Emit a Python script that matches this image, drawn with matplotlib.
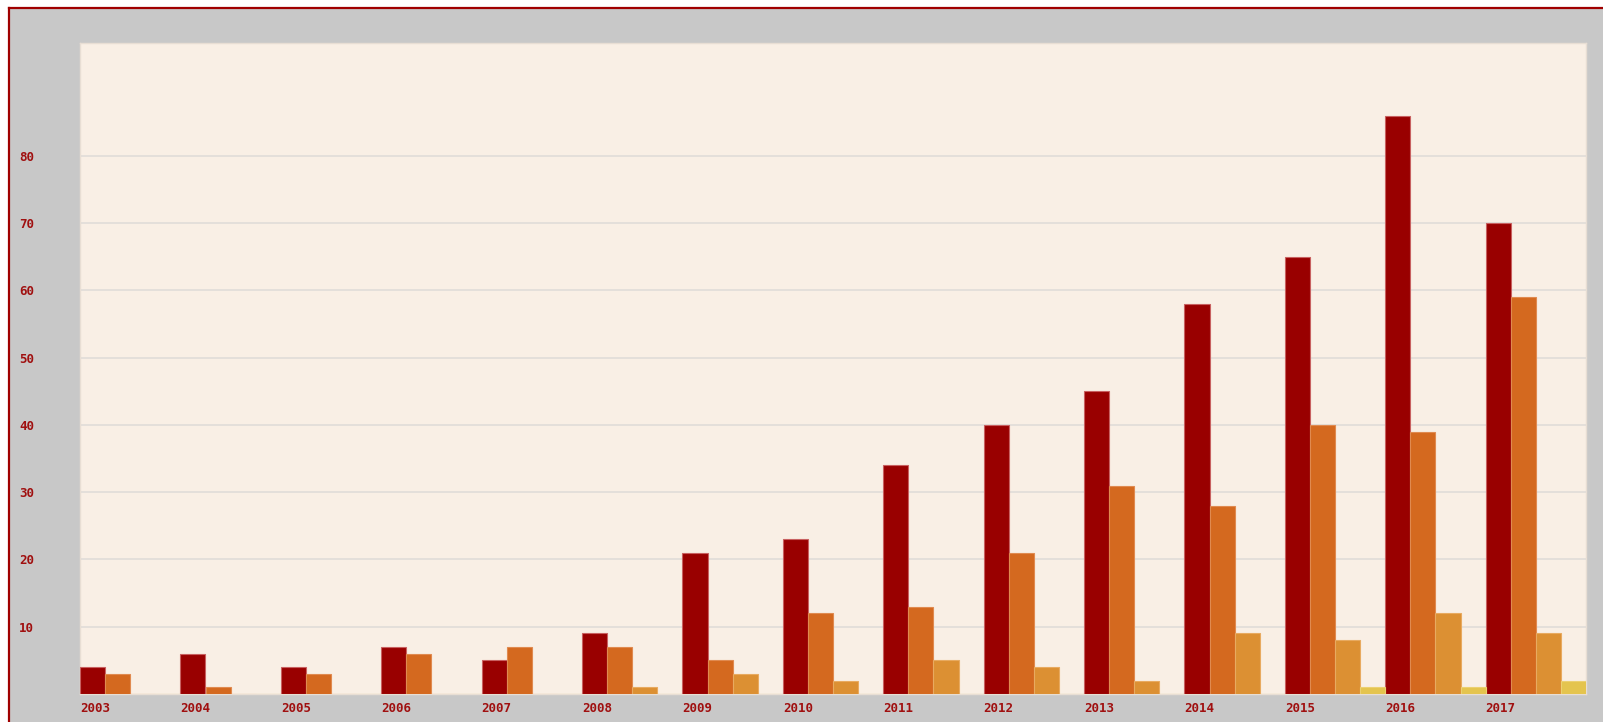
import matplotlib
matplotlib.use('Agg')

import numpy as np
import matplotlib.pyplot as plt
from matplotlib.lines import Line2D
from matplotlib.patches import Rectangle

# Yearly counts for the four series
years = ['2003', '2004', '2005', '2006', '2007', '2008', '2009', '2010',
         '2011', '2012', '2013', '2014', '2015', '2016', '2017']
series_a = [4, 6, 4, 7, 5, 9, 21, 23, 34, 40, 45, 58, 65, 86, 70]
series_b = [3, 1, 3, 6, 7, 7, 5, 12, 13, 21, 31, 28, 40, 39, 59]
series_c = [0, 0, 0, 0, 0, 1, 3, 2, 5, 4, 2, 9, 8, 12, 9]
series_d = [0, 0, 0, 0, 0, 0, 0, 0, 0, 0, 0, 0, 1, 1, 2]
y_ticks = [10, 20, 30, 40, 50, 60, 70, 80]

colors = ['#990000', '#d4691f', '#dc9033', '#e4c44e']
edges = ['#c86060', '#e08a50', '#e8aa60', '#ecd070']
text_red = '#a01010'

fig = plt.figure(figsize=(16.03, 7.22), dpi=100, facecolor='white')
W, H = 1603.0, 722.0

# gray frame with a dark red rule on the left and top
fig.patches.append(Rectangle((9 / W, 0), 1 - 9 / W, 1 - 8 / H,
                             transform=fig.transFigure, facecolor='#c8c8c8',
                             edgecolor='none', zorder=-10))
fig.lines.append(Line2D([9 / W, 9 / W], [0, 1 - 8 / H], transform=fig.transFigure,
                        color='#a00000', lw=1.6, zorder=-9))
fig.lines.append(Line2D([9 / W, 1], [1 - 8 / H, 1 - 8 / H], transform=fig.transFigure,
                        color='#a00000', lw=1.6, zorder=-9))

ax = fig.add_axes([80 / W, 28 / H, (1586 - 80) / W, (694 - 43) / H])
ax.set_facecolor('#f9efe5')

x = np.arange(len(years))
width = 0.25
for j, vals in enumerate([series_a, series_b, series_c, series_d]):
    ax.bar(x + (j - 1.5) * width, vals, width, color=colors[j],
           edgecolor=edges[j], linewidth=0.8, zorder=3)

ax.set_xlim(-0.5, len(years) - 0.5)
ax.set_ylim(0, 96.8)
ax.set_yticks(y_ticks)
ax.set_yticklabels([str(v) for v in y_ticks])
ax.set_xticks(x - 0.5)
ax.set_xticklabels(years, ha='left')
ax.grid(axis='y', color='#e0dcd8', linewidth=1.2, zorder=1)
ax.set_axisbelow(True)

ax.tick_params(axis='y', length=0, pad=33, labelcolor=text_red)
ax.tick_params(axis='x', length=0, pad=6, labelcolor=text_red)
for lab in ax.get_xticklabels() + ax.get_yticklabels():
    lab.set_fontfamily('DejaVu Sans Mono')
    lab.set_fontweight('bold')
    lab.set_fontsize(9)

for side, sp in ax.spines.items():
    sp.set_color('#e8ded4')
    sp.set_linewidth(1.0)

fig.savefig('out.png', dpi=100, facecolor=fig.get_facecolor())
